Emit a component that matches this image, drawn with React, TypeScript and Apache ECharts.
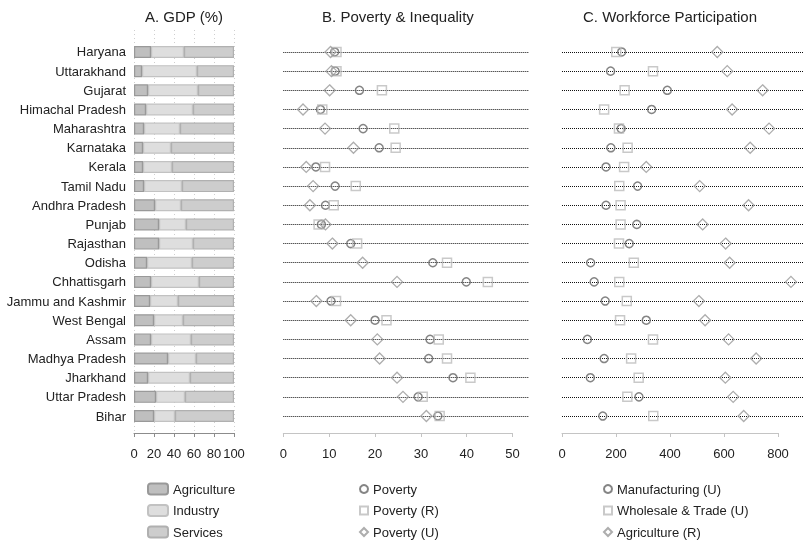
import React, { useEffect, useRef } from 'react';
import * as echarts from 'echarts';

const states = ['Haryana', 'Uttarakhand', 'Gujarat', 'Himachal Pradesh', 'Maharashtra', 'Karnataka', 'Kerala', 'Tamil Nadu', 'Andhra Pradesh', 'Punjab', 'Rajasthan', 'Odisha', 'Chhattisgarh', 'Jammu and Kashmir', 'West Bengal', 'Assam', 'Madhya Pradesh', 'Jharkhand', 'Uttar Pradesh', 'Bihar'];

const gdpAgriculture = [17, 8, 14, 12, 10, 9, 9, 10, 21, 25, 25, 13, 17, 16, 20, 17, 34, 14, 22, 20];
const gdpIndustry = [33, 55, 50, 47, 36, 28, 29, 38, 26, 27, 34, 45, 48, 28, 29, 40, 28, 42, 29, 21];
const gdpServices = [50, 37, 36, 41, 54, 63, 62, 52, 53, 48, 41, 42, 35, 56, 51, 43, 38, 44, 49, 59];

const poverty = [11.2, 11.3, 16.6, 8.1, 17.4, 20.9, 7.1, 11.3, 9.2, 8.3, 14.7, 32.6, 39.9, 10.4, 20.0, 32.0, 31.7, 37.0, 29.4, 33.7];
const povertyRural = [11.6, 11.6, 21.5, 8.5, 24.2, 24.5, 9.1, 15.8, 11.0, 7.7, 16.1, 35.7, 44.6, 11.5, 22.5, 33.9, 35.7, 40.8, 30.4, 34.1];
const povertyUrban = [10.3, 10.5, 10.1, 4.3, 9.1, 15.3, 5.0, 6.5, 5.8, 9.2, 10.7, 17.3, 24.8, 7.2, 14.7, 20.5, 21.0, 24.8, 26.1, 31.2];

const manufacturingU = [221, 180, 390, 332, 219, 181, 163, 280, 163, 277, 249, 106, 119, 160, 312, 94, 156, 105, 285, 151];
const wholesaleU = [201, 337, 232, 156, 211, 243, 230, 212, 217, 217, 211, 266, 212, 240, 215, 337, 256, 284, 242, 338];
const agricultureR = [575, 612, 743, 630, 767, 697, 312, 510, 691, 521, 606, 621, 848, 507, 530, 617, 719, 605, 634, 673];

const gdpTicks = [0, 20, 40, 60, 80, 100];
const povertyTicks = [0, 10, 20, 30, 40, 50];
const workTicks = [0, 200, 400, 600, 800];

const titles = ['A. GDP (%)', 'B. Poverty & Inequality', 'C. Workforce Participation'];

export default function App() {
  const ref = useRef<HTMLDivElement>(null);
  useEffect(() => {
    document.body.style.margin = '0';
    const chart = echarts.init(ref.current as HTMLDivElement, null, { renderer: 'svg' });
    const FONT = '"Liberation Sans", Arial, Helvetica, sans-serif';
    const rowTop = 42.4, rowH = 383.2;
    const gTop = 30, gH = 403;
    const aL = 134, aW = 100;
    const bL = 283.3, bW = 229.3, bDataW = 245.7;
    const cL = 562, cW = 216, cDataW = 242;
    const aMax = gdpTicks[gdpTicks.length - 1];
    const bTickMax = povertyTicks[povertyTicks.length - 1];
    const cTickMax = workTicks[workTicks.length - 1];
    const bMax = bTickMax * bDataW / bW;
    const cMax = cTickMax * cDataW / cW;

    const grid = (left: number, top: number, width: number, height: number) => ({ left, top, width, height, outerBoundsMode: 'none', containLabel: false });

    const visAxis = (gridIndex: number, max: number, interval: number, lineColor: string, split: boolean) => ({
      type: 'value', gridIndex, min: 0, max, interval, position: 'bottom', offset: 8,
      axisLine: { show: true, lineStyle: { color: lineColor, width: 1 } },
      axisTick: { show: true, length: 4, inside: false, lineStyle: { color: lineColor } },
      axisLabel: { show: true, color: '#222', fontSize: 13, margin: 6, fontFamily: FONT },
      splitLine: { show: split, lineStyle: { color: '#cfcfcf', type: [1, 3], width: 1 } },
    });
    const hidX = (gridIndex: number, max: number) => ({ type: 'value', gridIndex, min: 0, max, show: false, splitLine: { show: false } });
    const hidYVal = (gridIndex: number) => ({ type: 'value', gridIndex, min: 0, max: 1, show: false, splitLine: { show: false } });
    const catY = (gridIndex: number, show: boolean) => ({
      type: 'category', gridIndex, data: states, inverse: true, show,
      axisLine: { show: false }, axisTick: { show: false }, splitLine: { show: false },
      axisLabel: { show, color: '#222', fontSize: 13, margin: 8, fontFamily: FONT, interval: 0 },
    });

    const dotted = {
      silent: true, symbol: 'none', label: { show: false }, animation: false,
      lineStyle: { color: '#111', type: [1, 1], width: 1 },
      emphasis: { disabled: true },
      data: states.map((_, i) => ({ yAxis: i })),
    };

    const hollow = (name: string, xi: number, values: number[], symbol: string, size: number, color: string, bw: number, withLines: boolean) => ({
      name, type: 'scatter', xAxisIndex: xi, yAxisIndex: xi, symbol, symbolSize: size, z: 5,
      itemStyle: { color: 'rgba(0,0,0,0)', borderColor: color, borderWidth: bw },
      data: values.map((v, i) => [v, i]),
      ...(withLines ? { markLine: dotted } : {}),
    });

    const bar = (name: string, values: number[], fill: string, border: string) => ({
      name, type: 'bar', stack: 'gdp', xAxisIndex: 0, yAxisIndex: 0, barWidth: 12,
      itemStyle: { color: fill, borderColor: border, borderWidth: 1.2 },
      data: values,
    });

    const legend = (data: any[], left: number, itemWidth: number, itemHeight: number, textGap: number) => ({
      data, left, top: 481.5, orient: 'vertical', itemWidth, itemHeight, itemGap: 6.5, itemTextGap: textGap,
      selectedMode: false, padding: 0,
      textStyle: { color: '#222', fontSize: 13, fontFamily: FONT, lineHeight: 15 },
    });

    const centers = [aL + aW / 2, bL + bW / 2, cL + cW / 2];

    chart.setOption({
      animation: false,
      textStyle: { fontFamily: FONT },
      grid: [
        grid(aL, rowTop, aW, rowH),
        grid(aL, gTop, aW, gH),
        grid(bL, rowTop, bDataW, rowH),
        grid(bL, gTop, bW, gH),
        grid(cL, rowTop, cDataW, rowH),
        grid(cL, gTop, cW, gH),
      ],
      xAxis: [
        hidX(0, aMax),
        visAxis(1, aMax, 20, '#8c8c8c', true),
        hidX(2, bMax),
        visAxis(3, bTickMax, 10, '#c4c4c4', false),
        hidX(4, cMax),
        visAxis(5, cTickMax, 200, '#c4c4c4', false),
      ],
      yAxis: [catY(0, true), hidYVal(1), catY(2, false), hidYVal(3), catY(4, false), hidYVal(5)],
      legend: [
        legend(['Agriculture', 'Industry', 'Services'], 147, 20, 11, 15),
        legend(['Poverty', 'Poverty (R)', 'Poverty (U)'], 359, 8, 8, 14),
        legend(['Manufacturing (U)', 'Wholesale & Trade (U)', 'Agriculture (R)'], 603, 8, 8, 14),
      ],
      graphic: titles.map((t, i) => ({
        type: 'text', x: centers[i], y: 16,
        style: { text: t, fill: '#222', font: `15px ${FONT}`, textAlign: 'center', textVerticalAlign: 'middle' },
      })),
      series: [
        bar('Agriculture', gdpAgriculture, '#bfbfbf', '#999999'),
        bar('Industry', gdpIndustry, '#dedede', '#c2c2c2'),
        bar('Services', gdpServices, '#cdcdcd', '#b0b0b0'),
        hollow('Poverty', 2, poverty, 'circle', 8, '#666666', 1.5, true),
        hollow('Poverty (R)', 2, povertyRural, 'rect', 9, '#bbbbbb', 1.5, false),
        hollow('Poverty (U)', 2, povertyUrban, 'diamond', 11, '#999999', 1.3, false),
        hollow('Manufacturing (U)', 4, manufacturingU, 'circle', 8, '#666666', 1.5, true),
        hollow('Wholesale & Trade (U)', 4, wholesaleU, 'rect', 9, '#bbbbbb', 1.5, false),
        hollow('Agriculture (R)', 4, agricultureR, 'diamond', 11, '#999999', 1.3, false),
      ],
    });
    return () => chart.dispose();
  }, []);
  return <div ref={ref} style={{ position: 'fixed', left: 0, top: 0, width: 804, height: 542 }} />;
}
